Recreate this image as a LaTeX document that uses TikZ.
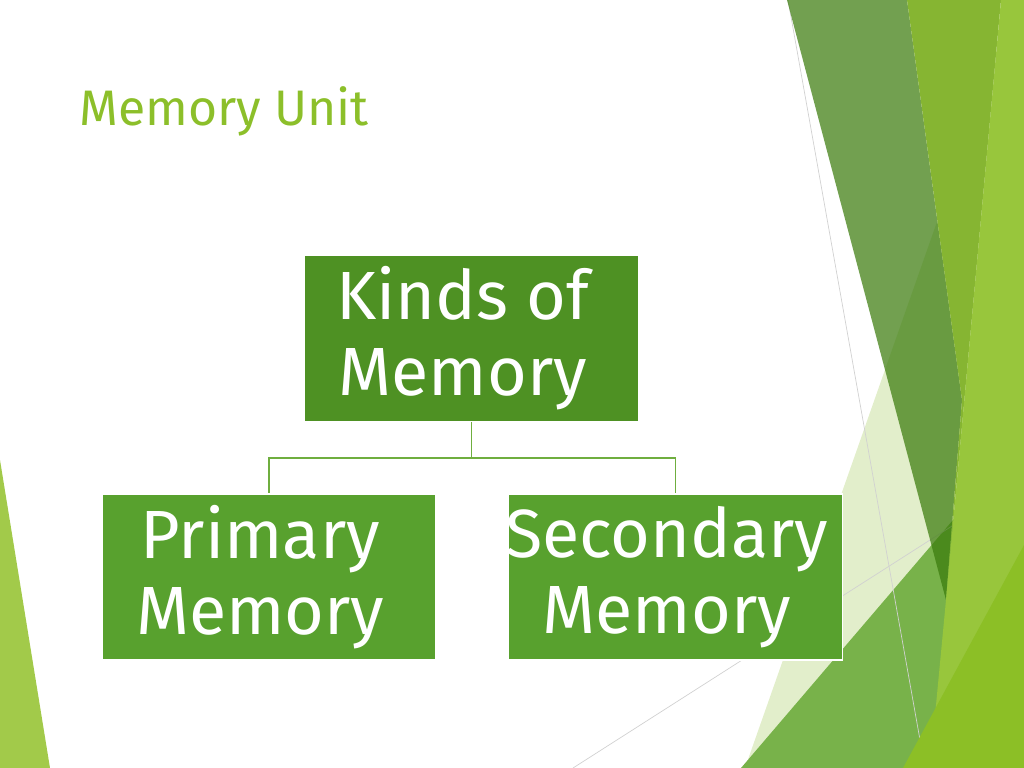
\documentclass[tikz,border=0pt]{standalone}
\usepackage{fontspec}
\setmainfont{Fira Sans}
\definecolor{titlegreen}{HTML}{8CBF2A}
\definecolor{topgreen}{HTML}{4E9123}
\definecolor{boxgreen}{HTML}{58A12E}
\definecolor{linkgreen}{HTML}{6FAE3F}
\definecolor{leftfacet}{HTML}{A2CA4A}
\definecolor{palefacet}{HTML}{E2EECB}
\definecolor{midfacet}{HTML}{78B24A}
\definecolor{darkfacet}{RGB}{59,123,12}
\definecolor{yellowfacet}{HTML}{86B532}
\definecolor{stripfacet}{HTML}{98C63C}
\definecolor{limefacet}{HTML}{8CBF26}
\begin{document}
\begin{tikzpicture}[x=0.025cm,y=-0.025cm,
  membox/.style={fill=boxgreen, draw=white, line width=0.8pt,
    minimum width=8.35cm, minimum height=4.15cm, inner sep=0pt},
  memtext/.style={text=white, align=center, inner sep=0pt, xshift=-0.22cm,
    font=\fontsize{48.5}{54}\selectfont},
  facetline/.style={draw=black!18, line width=0.5pt}]
\useasboundingbox (0,0) rectangle (1024,768);
% background facets
\fill[leftfacet] (0,460) -- (50,768) -- (0,768) -- cycle;
\fill[palefacet] (1015,0) -- (1024,0) -- (1024,768) -- (745,768) -- cycle;
\fill[midfacet] (741,768) -- (1024,437) -- (1024,768) -- cycle;
\draw[facetline] (788,0) -- (925,768);
\draw[facetline] (573,768) -- (1024,480);
\fill[darkfacet, opacity=0.72] (787,0) -- (907,0) -- (962,400) -- (946,600) -- cycle;
\fill[yellowfacet] (907,0) -- (1001,0) -- (946,600) -- (962,400) -- cycle;
\fill[stripfacet] (1001,0) -- (1024,0) -- (1024,768) -- (930,768) -- (946,600) -- cycle;
\fill[limefacet] (903,768) -- (1024,545) -- (1024,768) -- cycle;

\node[anchor=base west, text=titlegreen, inner sep=0pt,
  font=\fontsize{35.5}{42}\selectfont] (title) at (79,126) {Memory Unit};

\node[membox, fill=topgreen, label={[memtext]center:{Kinds of\\Memory}}] (kinds) at (471.5,338.5) {};
\node[membox, label={[memtext]center:{Primary\\Memory}}] (prim) at (269,577) {};
\node[membox, label={[memtext]center:{Secondary\\Memory}}] (sec) at (675.5,577) {};

\draw[linkgreen, line width=1.4pt] (kinds.south) -- ++(0,36) -| (prim.north);
\draw[linkgreen, line width=1.4pt] (kinds.south) -- ++(0,36) -| (sec.north);
\end{tikzpicture}
\end{document}
